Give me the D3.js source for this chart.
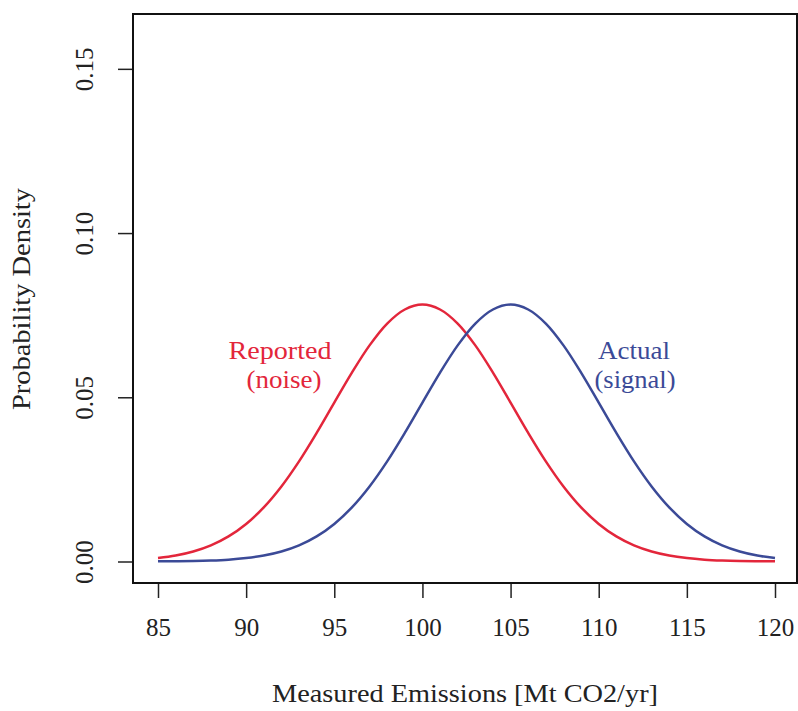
<!DOCTYPE html>
<html>
<head>
<meta charset="utf-8">
<script src="https://cdn.jsdelivr.net/npm/d3@7/dist/d3.min.js"></script>
<style>
  html, body { margin: 0; padding: 0; background: #fff; }
  svg { display: block; }
  text { font-family: "Liberation Serif", "DejaVu Serif", serif; fill: #222; }
</style>
</head>
<body>
<svg id="chart" width="798" height="711"></svg>
<script>
// Emission values on the x axis (Mt CO2/yr)
const emissions = [85, 86, 87, 88, 89, 90, 91, 92, 93, 94, 95, 96, 97, 98, 99, 100,
  101, 102, 103, 104, 105, 106, 107, 108, 109, 110, 111, 112, 113, 114, 115, 116,
  117, 118, 119, 120];

// Density of the reported emissions (noise)
const reportedDensity = [0.00104, 0.00181, 0.00304, 0.00491, 0.00764, 0.01144, 0.01649,
  0.02286, 0.03050, 0.03916, 0.04838, 0.05751, 0.06580, 0.07244, 0.07673, 0.07822,
  0.07673, 0.07244, 0.06580, 0.05751, 0.04838, 0.03916, 0.03050, 0.02286, 0.01649,
  0.01144, 0.00764, 0.00491, 0.00304, 0.00181, 0.00104, 0.00057, 0.00030, 0.00015,
  0.00008, 0.00004];

// Density of the actual emissions (signal)
const actualDensity = [0.00004, 0.00008, 0.00015, 0.00030, 0.00057, 0.00104, 0.00181,
  0.00304, 0.00491, 0.00764, 0.01144, 0.01649, 0.02286, 0.03050, 0.03916, 0.04838,
  0.05751, 0.06580, 0.07244, 0.07673, 0.07822, 0.07673, 0.07244, 0.06580, 0.05751,
  0.04838, 0.03916, 0.03050, 0.02286, 0.01649, 0.01144, 0.00764, 0.00491, 0.00304,
  0.00181, 0.00104];

const xTicks = [85, 90, 95, 100, 105, 110, 115, 120];
const yTicks = [0.00, 0.05, 0.10, 0.15];

const svg = d3.select("#chart");
const red = "#e3263b", blue = "#3b4a97";

const box = { left: 133, right: 797, top: 14, bottom: 583 };
const x = d3.scaleLinear().domain([85, 120]).range([158, 775]);
const y = d3.scaleLinear().domain([0, 0.16]).range([561.5, 36]);

// x axis
const xAxis = svg.append("g")
  .attr("transform", `translate(0,${box.bottom})`)
  .call(d3.axisBottom(x).tickValues(xTicks).tickSize(15).tickPadding(20).tickFormat(d3.format("d")));
xAxis.select(".domain").remove();
xAxis.selectAll(".tick line").attr("stroke", "#222").attr("stroke-width", 1.5);
xAxis.selectAll(".tick text")
  .attr("font-size", 25).attr("fill", "#222")
  .style("font-family", "'Liberation Serif', serif");

// y axis with rotated labels
const yAxis = svg.append("g")
  .attr("transform", `translate(${box.left},0)`)
  .call(d3.axisLeft(y).tickValues(yTicks).tickSize(15).tickFormat(d3.format(".2f")));
yAxis.select(".domain").remove();
yAxis.selectAll(".tick line").attr("stroke", "#222").attr("stroke-width", 1.5);
yAxis.selectAll(".tick text")
  .attr("font-size", 25).attr("fill", "#222")
  .attr("x", null).attr("dy", null)
  .attr("text-anchor", "middle")
  .attr("transform", "translate(-40,0) rotate(-90)")
  .style("font-family", "'Liberation Serif', serif");

// density curves
const line = d3.line()
  .x(d => x(d[0]))
  .y(d => y(d[1]))
  .curve(d3.curveCatmullRom);

const series = [
  { values: reportedDensity, color: red },
  { values: actualDensity, color: blue }
];
series.forEach(s => {
  svg.append("path")
    .datum(emissions.map((e, i) => [e, s.values[i]]))
    .attr("fill", "none")
    .attr("stroke", s.color)
    .attr("stroke-width", 2.5)
    .attr("d", line);
});

// plot frame
svg.append("rect")
  .attr("x", box.left).attr("y", box.top)
  .attr("width", box.right - box.left).attr("height", box.bottom - box.top)
  .attr("fill", "none").attr("stroke", "#111").attr("stroke-width", 2);

// curve labels
const labels = [
  { lines: ["Reported", "(noise)"], cx: [280, 284], len: [103, 75], color: red },
  { lines: ["Actual", "(signal)"], cx: [634, 635], len: [72, 81], color: blue }
];
labels.forEach(l => {
  l.lines.forEach((t, i) => {
    svg.append("text")
      .attr("x", l.cx[i]).attr("y", 359 + i * 29)
      .attr("text-anchor", "middle")
      .attr("font-size", 25)
      .attr("textLength", l.len[i])
      .attr("lengthAdjust", "spacingAndGlyphs")
      .style("fill", l.color)
      .text(t);
  });
});

// axis titles
svg.append("text")
  .attr("x", 465).attr("y", 702)
  .attr("text-anchor", "middle")
  .attr("font-size", 26)
  .attr("textLength", 386)
  .attr("lengthAdjust", "spacingAndGlyphs")
  .text("Measured Emissions [Mt CO2/yr]");

svg.append("text")
  .attr("transform", "translate(30,299) rotate(-90)")
  .attr("text-anchor", "middle")
  .attr("font-size", 26)
  .attr("textLength", 222)
  .attr("lengthAdjust", "spacingAndGlyphs")
  .text("Probability Density");
</script>
</body>
</html>
